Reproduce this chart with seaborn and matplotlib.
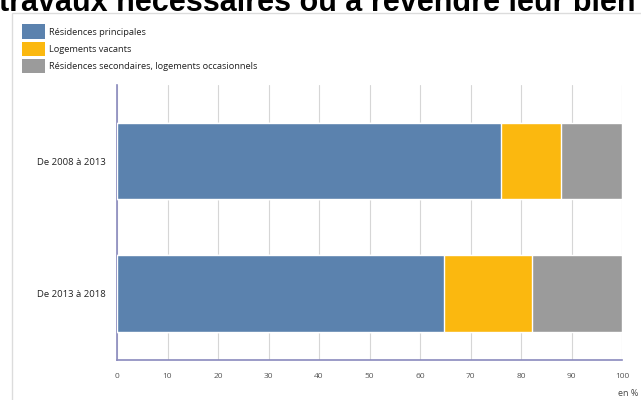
import matplotlib
matplotlib.use("Agg")
import matplotlib.pyplot as plt
import seaborn as sns
import pandas as pd
import numpy as np
from matplotlib.patches import Rectangle, Patch

categories = ["De 2008 à 2013", "De 2013 à 2018"]
series_names = ["Résidences principales", "Logements vacants",
                "Résidences secondaires, logements occasionnels"]
res_principales = [76.0, 64.8]
log_vacants = [11.9, 17.4]
res_secondaires = [12.1, 17.8]
x_ticks = [0, 10, 20, 30, 40, 50, 60, 70, 80, 90, 100]
colors = ["#5b82ae", "#fbb80f", "#9b9b9b"]
title = "travaux nécessaires ou à revendre leur bien"

sns.set_theme(style="white")
plt.rcParams['font.family'] = ['Open Sans', 'DejaVu Sans']

W, H = 641, 400
fig = plt.figure(figsize=(W / 100, H / 100), dpi=100)
ax = fig.add_axes([117 / W, 1 - 360 / H, (622 - 117) / W, (360 - 85) / H])

# cumulative totals for stacking
c1 = np.array(res_principales)
c2 = c1 + np.array(log_vacants)
c3 = c2 + np.array(res_secondaires)
df = pd.DataFrame({"cat": categories, "c1": c1, "c2": c2, "c3": c3})

for col, color in zip(["c3", "c2", "c1"], colors[::-1]):
    sns.barplot(data=df, x=col, y="cat", orient="h", color=color,
                width=0.575, saturation=1, ax=ax, zorder=3)

ax.set_xlim(0, 100)
ax.set_ylim(1.502, -0.574)
ax.set_xticks(x_ticks)
ax.set_xticklabels([str(t) for t in x_ticks], fontsize=6, color="#555555")
ax.tick_params(axis="y", labelsize=6.8, colors="#222222", length=0, pad=8)
ax.tick_params(axis="x", length=0, pad=9)
ax.set_xlabel("")
ax.set_ylabel("")
ax.grid(axis="x", color="#d6d6d6", linewidth=0.8, zorder=0)
ax.set_axisbelow(True)
for s in ["top", "right"]:
    ax.spines[s].set_visible(False)
for s in ["left", "bottom"]:
    ax.spines[s].set_color("#8a8abd")
    ax.spines[s].set_linewidth(1.2)
ax.set_facecolor("white")

# "en %" label
fig.text(628 / W, 1 - 393 / H, "en %", fontsize=6.5, color="#444444",
         ha="center", va="center")

# frame
fig.patches.append(Rectangle((12 / W, -0.1), 1.2, 1 - 13 / H + 0.1,
                             transform=fig.transFigure, fill=False,
                             edgecolor="#dcdcdc", linewidth=1))

# legend
handles = [Patch(facecolor=c, edgecolor="none") for c in colors]
fig.legend(handles, series_names, loc="upper left",
           bbox_to_anchor=(14 / W, 1 - 16 / H), frameon=False,
           fontsize=6.7, handlelength=2.4, handleheight=2.0,
           labelspacing=0.3, handletextpad=0.5, labelcolor="#222222")

# title (cut off at top, as in the reference)
fig.text(-1 / W, 1 - 11 / H, title, fontsize=22, fontweight="bold",
         family="Liberation Sans", color="black", ha="left", va="baseline")

fig.savefig("out.png", dpi=100)
